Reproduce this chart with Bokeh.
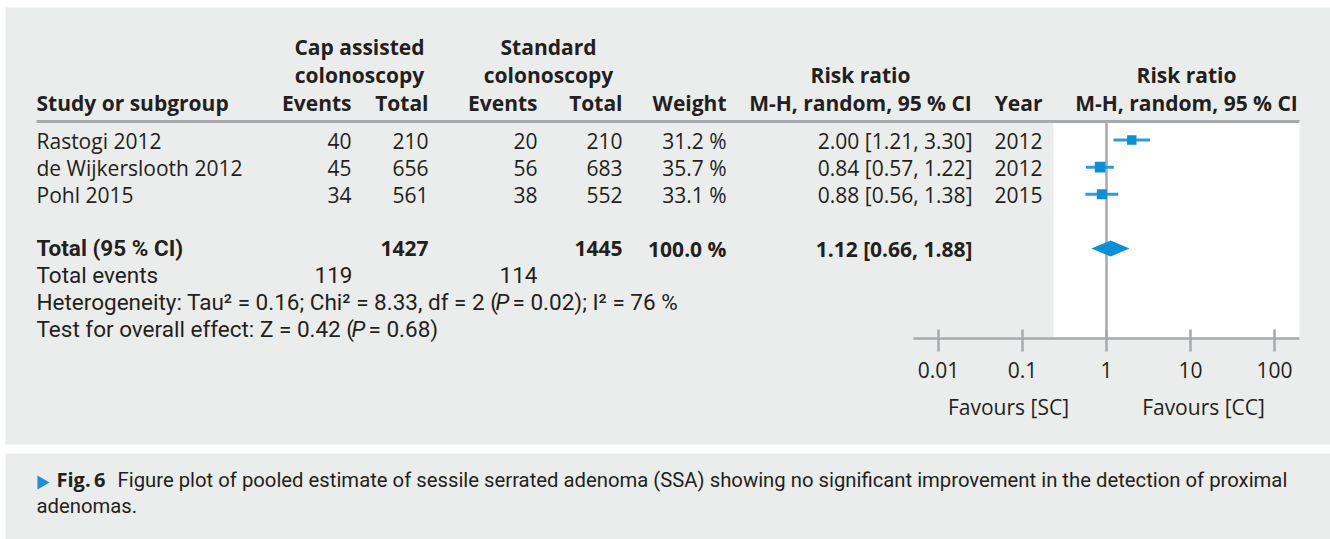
import math
from bokeh.plotting import figure
from bokeh.models import Range1d, LogScale, LogAxis, FixedTicker, CustomJSTickFormatter
from bokeh.core.properties import value
from bokeh.embed import file_html
from bokeh.resources import INLINE

# ---------------- data ----------------
studies = ["Rastogi 2012", "de Wijkerslooth 2012", "Pohl 2015"]
cap_events = [40, 45, 34]
cap_total = [210, 656, 561]
std_events = [20, 56, 38]
std_total = [210, 683, 552]
weights = [31.2, 35.7, 33.1]
rr = [2.00, 0.84, 0.88]
rr_lo = [1.21, 0.57, 0.56]
rr_hi = [3.30, 1.22, 1.38]
years = [2012, 2012, 2015]

total_label = "Total (95 % CI)"
total_cap = 1427
total_std = 1445
total_weight = 100.0
pooled = 1.12
pooled_lo = 0.66
pooled_hi = 1.88
events_cap = 119
events_std = 114

het_parts = ["Heterogeneity: Tau\u00b2 = 0.16; Chi\u00b2 = 8.33, df = 2 (", "P", "= 0.02); I\u00b2 = 76 %"]
test_parts = ["Test for overall effect: Z = 0.42 (", "P", "= 0.68)"]

tick_values = [0.01, 0.1, 1, 10, 100]
favours = ["Favours [SC]", "Favours [CC]"]

caption_bold = "Fig.\u20096"
caption_line1 = "Figure plot of pooled estimate of sessile serrated adenoma (SSA) showing no significant improvement in the detection of proximal"
caption_line2 = "adenomas."

# ---------------- layout ----------------
W, H = 1330, 539
ANCHOR_PX, DECADE_PX = 1106, 84   # x of RR = 1, pixels per decade

INK = "#231f20"
PANEL = "#ebecec"
RULE = "#a7a9ac"
BLUE = "#0b8fd6"
BLUE_LINE = "#2b9ddb"

F_MAIN = "Open Sans"
F_COND = "Roboto"
FS = 21
FS_COND = 22.5
FS_CAP = 20.3

p = figure(width=W, height=H, output_backend="svg", toolbar_location=None,
           x_range=Range1d(0, W), y_range=Range1d(H, 0),
           x_axis_location=None, y_axis_location=None, min_border=0,
           background_fill_color="white", border_fill_color="white",
           outline_line_color=None)
p.grid.grid_line_color = None

p.extra_x_ranges = {"rr": Range1d(10 ** ((0 - ANCHOR_PX) / DECADE_PX),
                                  10 ** ((W - ANCHOR_PX) / DECADE_PX))}
p.extra_x_scales = {"rr": LogScale()}

# panels
p.quad(left=[5, 5], right=[W, W], top=[7, 453], bottom=[444, H],
       fill_color=PANEL, line_color=None)
# white plot area
p.quad(left=[1053], right=[1299], top=[121], bottom=[338],
       fill_color="white", line_color=None)
# header rule
p.segment(x0=[36], x1=[1299], y0=[121], y1=[121], line_color=RULE, line_width=3)
# line of no effect
p.segment(x0=[1], x1=[1], y0=[121], y1=[338], x_range_name="rr",
          line_color=RULE, line_width=2.5)

def txt(x, y, s, align="left", bold=False, italic=False, font=F_MAIN, size=FS, color=INK):
    n = len(s) if isinstance(s, list) else 1
    if not isinstance(x, list):
        x = [x] * n
    if not isinstance(y, list):
        y = [y] * n
    if not isinstance(s, list):
        s = [s]
    dy = 0.38 * size   # compensate the renderer's baseline offset
    y = [v - dy for v in y]
    style = "bold" if bold else ("italic" if italic else "normal")
    p.text(x=x, y=y, text=s, text_align=align, text_baseline="alphabetic",
           text_font=value(font), text_font_size=value("%gpx" % size),
           text_font_style=value(style), text_color=color)

# header
hdr1, hdr2, hdr3 = 54, 82, 110
txt(359, hdr1, "Cap assisted", "center", True)
txt(548, hdr1, "Standard", "center", True)
txt(359, hdr2, "colonoscopy", "center", True)
txt(548, hdr2, "colonoscopy", "center", True)
txt(860, hdr2, "Risk ratio", "center", True)
txt(1186, hdr2, "Risk ratio", "center", True)
txt(36, hdr3, "Study or subgroup", "left", True)
txt([351, 428, 537, 622, 726, 1042], hdr3,
    ["Events", "Total", "Events", "Total", "Weight", "Year"], "right", True)
txt([860, 1186], hdr3, ["M-H, random, 95 % CI", "M-H, random, 95 % CI"], "center", True)

# study rows
row_base = [148, 175, 202]
row_mid = [139.5, 166.7, 193.7]
txt(36, row_base, studies, "left")
txt(351, row_base, [str(v) for v in cap_events], "right")
txt(428, row_base, [str(v) for v in cap_total], "right")
txt(537, row_base, [str(v) for v in std_events], "right")
txt(622, row_base, [str(v) for v in std_total], "right")
txt(726, row_base, ["%.1f %%" % w for w in weights], "right")
txt(972, row_base, ["%.2f [%.2f, %.2f]" % (a, b, c) for a, b, c in zip(rr, rr_lo, rr_hi)], "right")
txt(1042, row_base, [str(v) for v in years], "right")

# forest rows
p.segment(x0=rr_lo, x1=rr_hi, y0=row_mid, y1=row_mid, x_range_name="rr",
          line_color=BLUE_LINE, line_width=3)
p.scatter(x=rr, y=row_mid, size=[w * 0.3 for w in weights], marker="square",
          x_range_name="rr", fill_color=BLUE, line_color=None)

# totals
tot_base, tot_mid = 256, 248
txt(36, tot_base, total_label, "left", True, font=F_COND, size=FS_COND)
txt([428, 622, 726, 972], tot_base,
    [str(total_cap), str(total_std), "%.1f %%" % total_weight,
     "%.2f [%.2f, %.2f]" % (pooled, pooled_lo, pooled_hi)], "right", True)
p.patch(x=[pooled_lo, pooled, pooled_hi, pooled],
        y=[tot_mid, tot_mid - 8, tot_mid, tot_mid + 8],
        x_range_name="rr", fill_color=BLUE, line_color=None)

ev_base = 283
txt(36, ev_base, "Total events", "left", font=F_COND, size=FS_COND)
txt([352, 537], ev_base, [str(events_cap), str(events_std)], "right", font=F_COND, size=FS_COND)

het_base = 310
txt(36, het_base, het_parts[0], "left", font=F_COND, size=FS_COND)
txt(495, het_base, het_parts[1], "left", italic=True, font=F_COND, size=FS_COND)
txt(512, het_base, het_parts[2], "left", font=F_COND, size=FS_COND)

test_base = 337
txt(36, test_base, test_parts[0], "left", font=F_COND, size=FS_COND)
txt(351, test_base, test_parts[1], "left", italic=True, font=F_COND, size=FS_COND)
txt(368, test_base, test_parts[2], "left", font=F_COND, size=FS_COND)

# axis
ax = LogAxis(x_range_name="rr", ticker=FixedTicker(ticks=tick_values),
             formatter=CustomJSTickFormatter(code="return tick.toString()"),
             bounds=(10 ** ((913 - ANCHOR_PX) / DECADE_PX), 10 ** ((1299 - ANCHOR_PX) / DECADE_PX)),
             fixed_location=338)
ax.axis_line_color = RULE
ax.axis_line_width = 2.5
ax.major_tick_line_color = RULE
ax.major_tick_line_width = 2.5
ax.major_tick_in = 9
ax.major_tick_out = 13
ax.minor_tick_line_color = None
ax.major_label_text_font = F_MAIN
ax.major_label_text_font_size = "%gpx" % FS
ax.major_label_text_color = INK
ax.major_label_standoff = 10
p.add_layout(ax, "below")

txt([1008, 1203], 414, favours, "center")

# caption
p.scatter(x=[41], y=[482], marker="triangle", size=14, angle=-math.pi / 2,
          fill_color="#1b8fd2", line_color=None)
txt(56, 487, caption_bold, "left", True, size=20)
txt(117, 487, caption_line1, "left", font=F_COND, size=FS_CAP)
txt(36, 513, caption_line2, "left", font=F_COND, size=FS_CAP)

open("out.html", "w").write(file_html(p, INLINE))
